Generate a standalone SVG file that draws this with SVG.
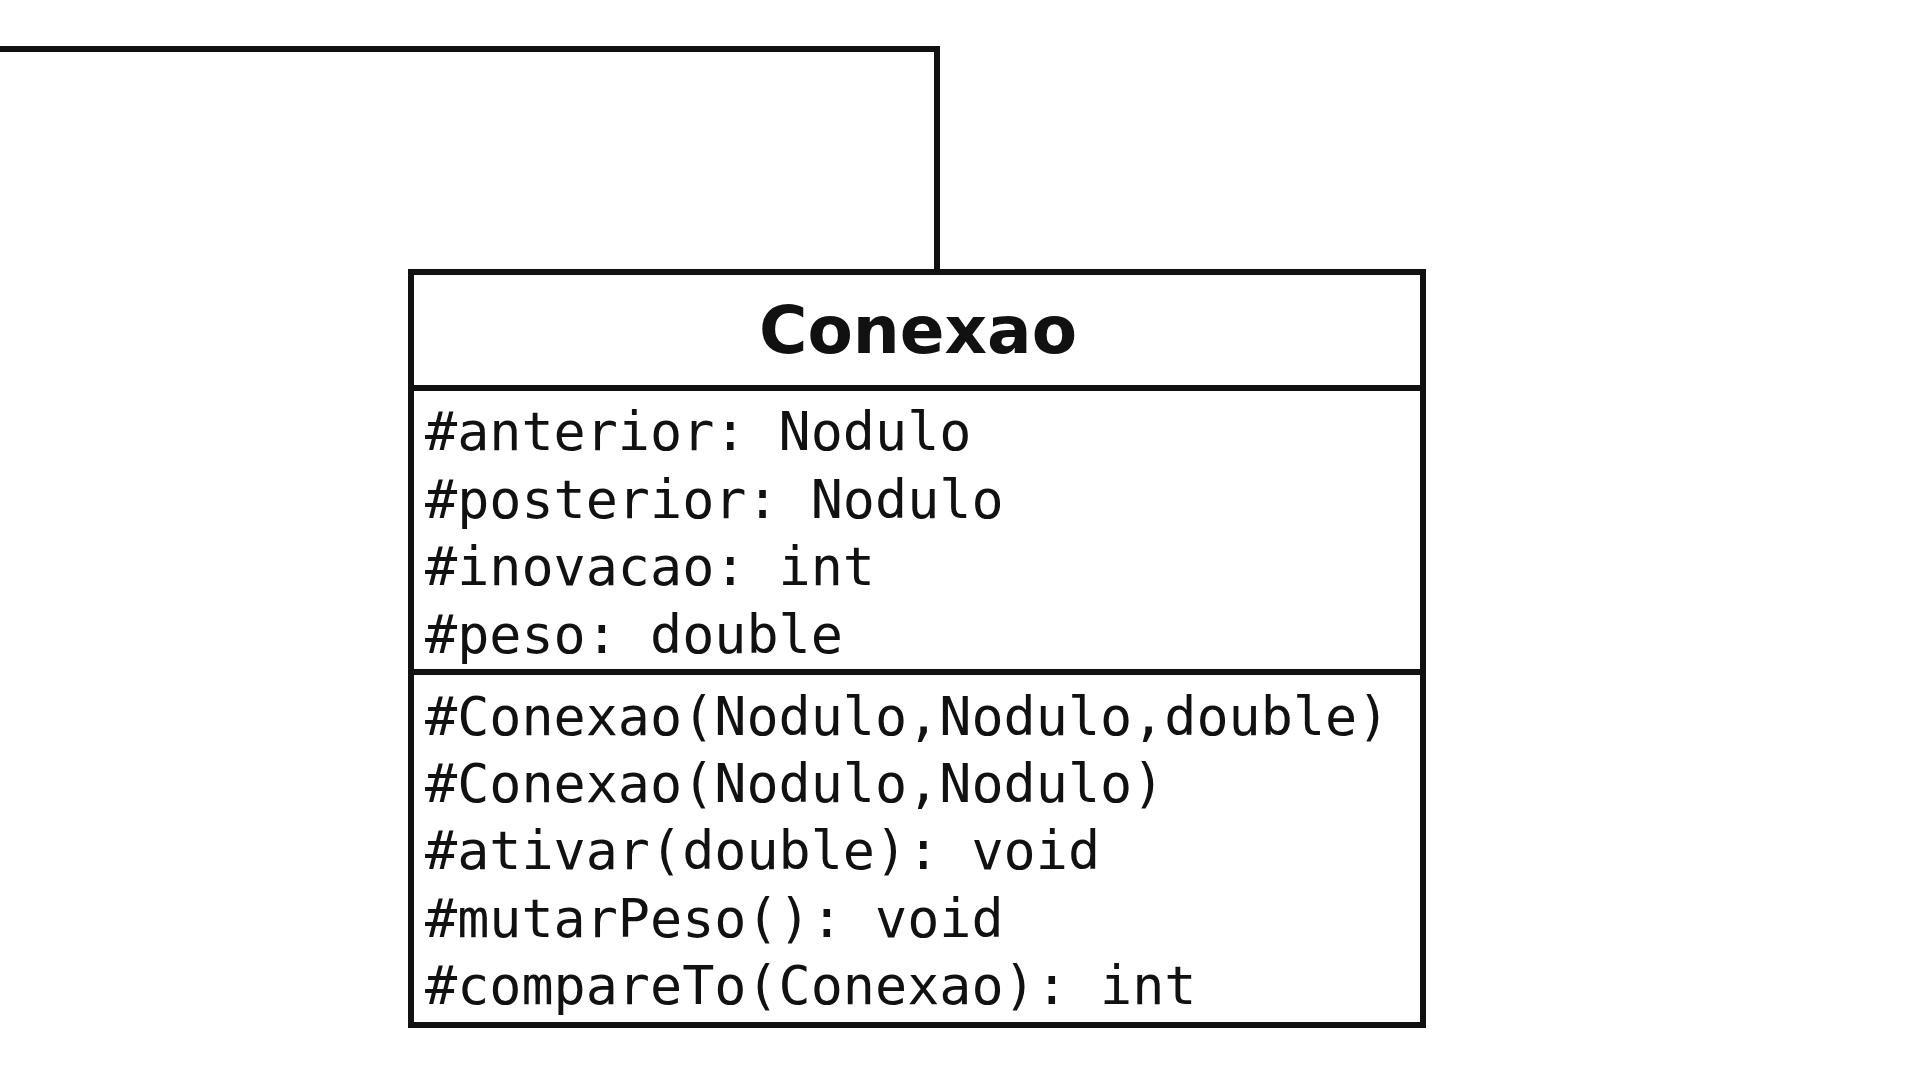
<svg xmlns="http://www.w3.org/2000/svg" width="1920" height="1080" viewBox="0 0 1920 1080">
<style>
.edge{fill:none;stroke:#111;stroke-width:6}
.box{fill:#fff;stroke:#111;stroke-width:6}
.div{stroke:#111;stroke-width:6}
.title{font-family:"DejaVu Sans",sans-serif;font-weight:bold;font-size:66px;fill:#111;text-anchor:middle}
.mem{font-family:"DejaVu Sans Mono",monospace;font-size:53.4px;fill:#111}
</style>
<rect width="1920" height="1080" fill="#fff"/>
<g id="connectors">
<polyline class="edge" points="0,49 937,49 937,272"/>
</g>
<g id="Conexao">
<rect class="box" x="411" y="272" width="1012" height="753"/>
<line class="div" x1="411" y1="388" x2="1423" y2="388"/>
<line class="div" x1="411" y1="672" x2="1423" y2="672"/>
<text class="title" x="918" y="353">Conexao</text>
<text class="mem" x="425" y="450">#anterior: Nodulo</text>
<text class="mem" x="425" y="518">#posterior: Nodulo</text>
<text class="mem" x="425" y="585">#inovacao: int</text>
<text class="mem" x="425" y="653">#peso: double</text>
<text class="mem" x="425" y="735">#Conexao(Nodulo,Nodulo,double)</text>
<text class="mem" x="425" y="802">#Conexao(Nodulo,Nodulo)</text>
<text class="mem" x="425" y="869">#ativar(double): void</text>
<text class="mem" x="425" y="937">#mutarPeso(): void</text>
<text class="mem" x="425" y="1004">#compareTo(Conexao): int</text>
</g>
</svg>
